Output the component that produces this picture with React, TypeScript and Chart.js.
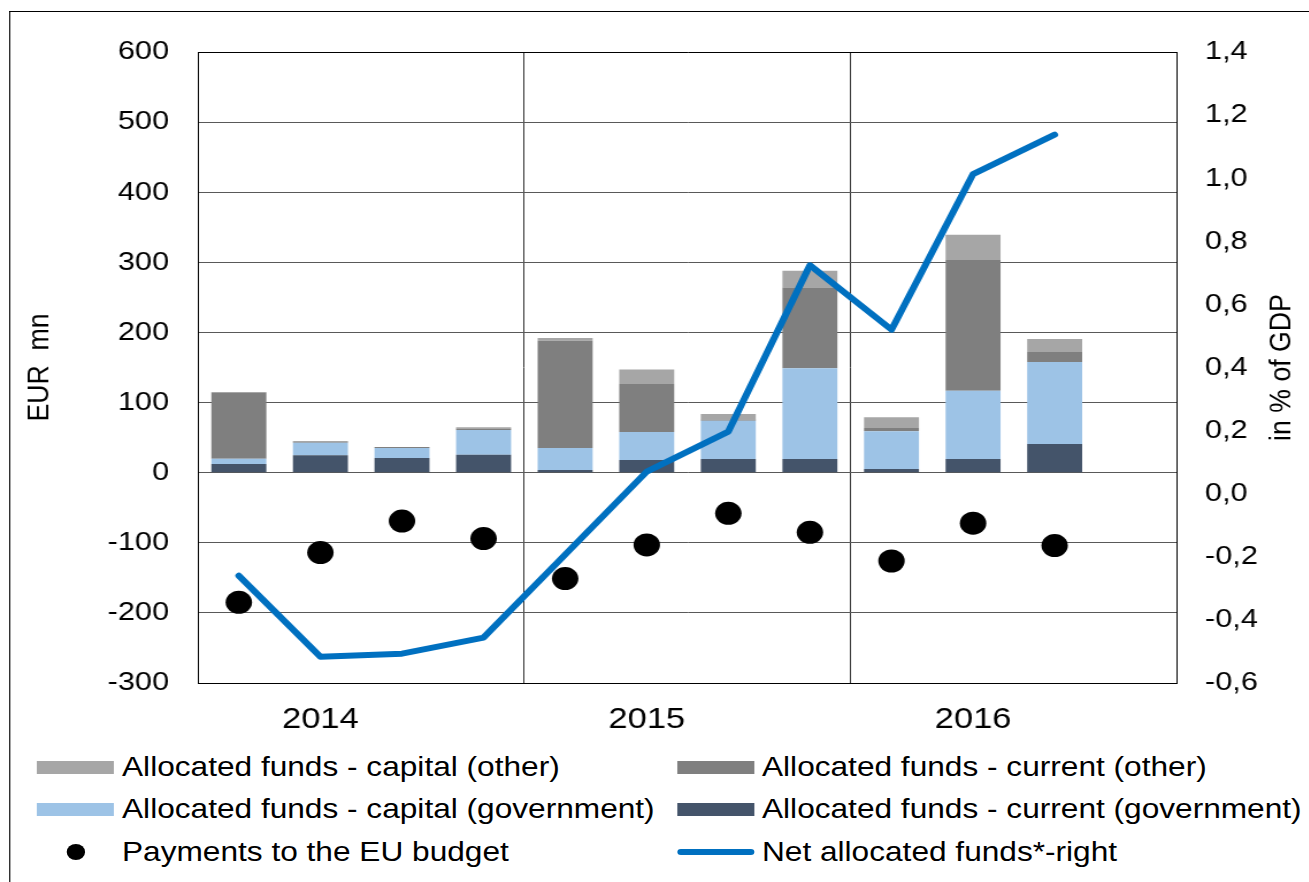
import React, { useEffect, useRef } from 'react';
import { Chart, registerables } from 'chart.js';

Chart.register(...registerables);

// ---------------- data ----------------
const categories = [
  '2014 Q1', '2014 Q2', '2014 Q3', '2014 Q4',
  '2015 Q1', '2015 Q2', '2015 Q3', '2015 Q4',
  '2016 Q1', '2016 Q2', '2016 Q3', '2016 Q4',
];
const yearLabels = ['2014', '2015', '2016'];

const currentGov = [12.4, 24.8, 21, 25.7, 3.9, 18.1, 19.5, 19.5, 5.3, 19.5, 41, null];
const capitalGov = [7.6, 18, 14.3, 35.3, 31.3, 40, 54.7, 129.5, 53.7, 97.5, 117, null];
const currentOther = [94.5, 1.5, 1.4, 2, 153.1, 68.4, 1.5, 115, 4.8, 186.4, 14, null];
const capitalOther = [0.5, 1.0, 0, 1.7, 3.9, 20.5, 8, 24, 15.2, 36.1, 18.7, null];
const payments = [-185, -114, -69, -94, -151, -103, -58, -85, -126, -72, -104, null];
const netAllocated = [-0.26, -0.517, -0.507, -0.456, -0.193, 0.07, 0.197, 0.724, 0.52, 1.013, 1.138, null];

const leftMin = -300;
const leftMax = 600;
const leftStep = 100;
const rightMin = -0.6;
const rightMax = 1.4;
const rightStep = 0.2;

const seriesLabels = {
  capitalOther: 'Allocated funds - capital (other)',
  currentOther: 'Allocated funds - current (other)',
  capitalGov: 'Allocated funds - capital (government)',
  currentGov: 'Allocated funds - current (government)',
  payments: 'Payments to the EU budget',
  net: 'Net allocated funds*-right',
};
const colors = {
  capitalOther: '#A6A6A6',
  currentOther: '#7F7F7F',
  capitalGov: '#9DC3E6',
  currentGov: '#44546A',
  payments: '#000000',
  net: '#0070C0',
};

// ---------------- layout ----------------
const S = 1.15; // horizontal stretch of the reference
const W = 1139;
const CHART_H = 745;
const PLOT_LEFT = 172.2;
const PLOT_RIGHT = 1023.5;
const PLOT_TOP = 52;
const PLOT_BOTTOM = 683;
const RIGHT_TITLE_X = 1114.8;
const FONT = '"Liberation Sans", Arial, sans-serif';
const FS = 26.7;
const FS_YEAR = 30;
const FS_LEGEND = 27.5;

type LegendItem = { label: string; color: string; kind: 'box' | 'dot' | 'line' };
const legendRows: LegendItem[][] = [
  [
    { label: seriesLabels.capitalOther, color: colors.capitalOther, kind: 'box' },
    { label: seriesLabels.currentOther, color: colors.currentOther, kind: 'box' },
  ],
  [
    { label: seriesLabels.capitalGov, color: colors.capitalGov, kind: 'box' },
    { label: seriesLabels.currentGov, color: colors.currentGov, kind: 'box' },
  ],
  [
    { label: seriesLabels.payments, color: colors.payments, kind: 'dot' },
    { label: seriesLabels.net, color: colors.net, kind: 'line' },
  ],
];
const legendRowY = [767, 809, 852];
const legendSwatchX = [32.2, 588.7];
const legendTextX = [106.1, 662.6];
const SW_W = 67;

export default function App() {
  const ref = useRef<HTMLCanvasElement>(null);

  useEffect(() => {
    const canvas = ref.current;
    if (!canvas) return;
    const font = { family: FONT, size: FS };

    const rightTitle = {
      id: 'rightTitle',
      afterDraw(chart: any) {
        const { ctx, chartArea } = chart;
        ctx.save();
        ctx.translate(RIGHT_TITLE_X, (chartArea.top + chartArea.bottom) / 2);
        ctx.rotate(-Math.PI / 2);
        ctx.font = `${FS}px ${FONT}`;
        ctx.fillStyle = '#000';
        ctx.textAlign = 'center';
        ctx.textBaseline = 'middle';
        ctx.fillText('in % of GDP', 0, 0);
        ctx.restore();
      },
    };

    const barCommon = {
      type: 'bar' as const,
      yAxisID: 'y',
      stack: 'funds',
      barPercentage: 0.674,
      categoryPercentage: 1,
      borderWidth: 0,
    };

    const chart = new Chart(canvas, {
      type: 'bar',
      data: {
        labels: categories,
        datasets: [
          {
            type: 'line',
            label: seriesLabels.net,
            data: netAllocated,
            yAxisID: 'y1',
            borderColor: colors.net,
            backgroundColor: colors.net,
            borderWidth: 6,
            pointRadius: 0,
            borderCapStyle: 'round',
            borderJoinStyle: 'round',
            fill: false,
            tension: 0,
            order: 0,
          } as any,
          {
            type: 'line',
            label: seriesLabels.payments,
            data: payments,
            yAxisID: 'y',
            stack: 'pay',
            showLine: false,
            pointRadius: 11.5,
            pointBackgroundColor: colors.payments,
            pointBorderColor: colors.payments,
            pointBorderWidth: 0,
            order: 1,
          } as any,
          { ...barCommon, label: seriesLabels.currentGov, data: currentGov, backgroundColor: colors.currentGov, order: 2 } as any,
          { ...barCommon, label: seriesLabels.capitalGov, data: capitalGov, backgroundColor: colors.capitalGov, order: 3 } as any,
          { ...barCommon, label: seriesLabels.currentOther, data: currentOther, backgroundColor: colors.currentOther, order: 4 } as any,
          { ...barCommon, label: seriesLabels.capitalOther, data: capitalOther, backgroundColor: colors.capitalOther, order: 5 } as any,
        ],
      },
      options: {
        animation: false,
        responsive: false,
        events: [],
        layout: { padding: { top: PLOT_TOP, left: 0, right: 0, bottom: 0 } },
        plugins: {
          legend: { display: false },
          tooltip: { enabled: false },
        },
        scales: {
          x: {
            offset: true,
            grid: {
              offset: true,
              drawTicks: false,
              lineWidth: 1,
              color: (ctx: any) => (ctx.index === 4 || ctx.index === 8 ? '#333333' : 'rgba(0,0,0,0)'),
            },
            border: { display: true, color: '#000', width: 1 },
            ticks: {
              autoSkip: false,
              maxRotation: 0,
              minRotation: 0,
              font: { family: FONT, size: FS_YEAR },
              color: '#000',
              padding: 19,
              callback: (_v: any, i: number) => (i % 4 === 1 ? yearLabels[Math.floor(i / 4)] : ''),
            },
            afterFit: (s: any) => {
              s.height = CHART_H - PLOT_BOTTOM;
            },
          },
          y: {
            position: 'left',
            stacked: true,
            min: leftMin,
            max: leftMax,
            ticks: { stepSize: leftStep, font, color: '#000', padding: 25.2 },
            grid: {
              drawTicks: false,
              lineWidth: 1,
              color: (ctx: any) => (ctx.tick && ctx.tick.value === leftMax ? '#000' : '#595959'),
            },
            border: { display: true, color: '#000', width: 1 },
            title: {
              display: true,
              text: 'EUR  mn',
              font,
              color: '#000',
              padding: { top: 18.8, bottom: 0 },
            },
            afterFit: (s: any) => {
              s.width = PLOT_LEFT;
            },
          },
          y1: {
            position: 'right',
            min: rightMin,
            max: rightMax,
            ticks: {
              stepSize: rightStep,
              font,
              color: '#000',
              padding: 24.3,
              callback: (v: any) => {
                const n = Number(v);
                const t = Math.abs(n) < 1e-9 ? '0.0' : n.toFixed(1);
                return t.replace('.', ',');
              },
            },
            grid: { drawOnChartArea: false, drawTicks: false },
            border: { display: true, color: '#000', width: 1 },
            afterFit: (s: any) => {
              s.width = W - PLOT_RIGHT;
            },
          },
        },
      } as any,
      plugins: [rightTitle],
    });

    return () => chart.destroy();
  }, []);

  return (
    <div
      style={{
        position: 'fixed',
        left: 0,
        top: 0,
        width: W,
        height: 882,
        overflow: 'hidden',
        background: '#fff',
        transform: `scaleX(${S})`,
        transformOrigin: '0 0',
      }}
    >
      <div
        style={{
          position: 'absolute',
          left: 8,
          top: 11,
          width: 3000,
          height: 3000,
          borderLeft: '1px solid #000',
          borderTop: '1px solid #000',
        }}
      />
      <canvas ref={ref} width={W} height={CHART_H} style={{ position: 'absolute', left: 0, top: 0 }} />
      {legendRows.map((row, r) =>
        row.map((item, c) => {
          const cy = legendRowY[r];
          const sx = legendSwatchX[c];
          let swatch: React.ReactNode;
          if (item.kind === 'box') {
            swatch = (
              <div style={{ position: 'absolute', left: sx, top: cy - 6.5, width: SW_W, height: 13, background: item.color }} />
            );
          } else if (item.kind === 'dot') {
            swatch = (
              <div
                style={{
                  position: 'absolute',
                  left: sx + SW_W / 2 - 8,
                  top: cy - 8,
                  width: 16,
                  height: 16,
                  borderRadius: '50%',
                  background: item.color,
                }}
              />
            );
          } else {
            swatch = (
              <div
                style={{
                  position: 'absolute',
                  left: sx,
                  top: cy - 3,
                  width: SW_W,
                  height: 6,
                  borderRadius: 3,
                  background: item.color,
                }}
              />
            );
          }
          return (
            <React.Fragment key={`${r}-${c}`}>
              {swatch}
              <div
                style={{
                  position: 'absolute',
                  left: legendTextX[c],
                  top: cy - 17,
                  height: 34,
                  lineHeight: '34px',
                  fontFamily: FONT,
                  fontSize: FS_LEGEND,
                  color: '#000',
                  whiteSpace: 'nowrap',
                }}
              >
                {item.label}
              </div>
            </React.Fragment>
          );
        })
      )}
    </div>
  );
}
